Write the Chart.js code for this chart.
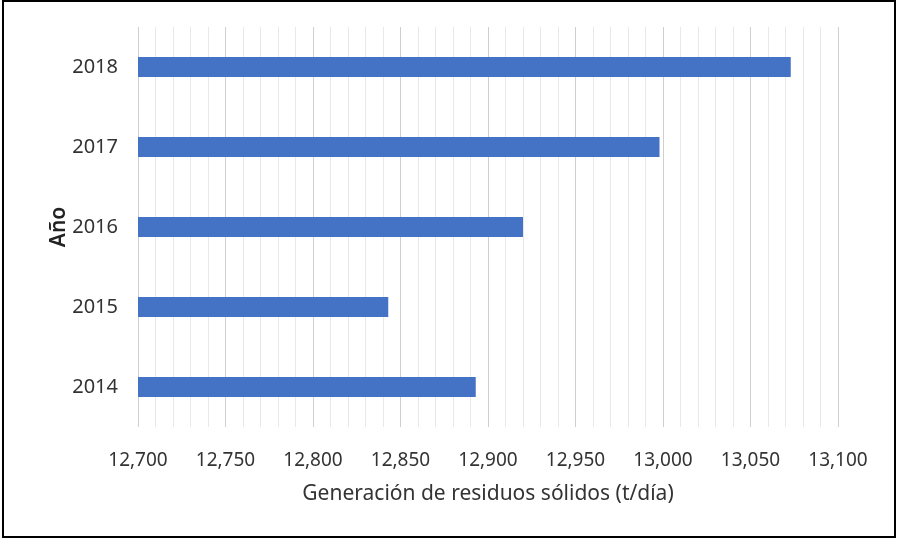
<!DOCTYPE html>
<html>
<head>
<meta charset="utf-8">
<script src="https://cdn.jsdelivr.net/npm/chart.js@4.4.0/dist/chart.umd.min.js"></script>
<style>
  body{margin:0;background:#fff;}
  #wrap{position:relative;width:897px;height:539px;}
</style>
</head>
<body>
<div id="wrap"><canvas id="myBarChart"></canvas></div>
<script>
// datos
var years=['2014','2015','2016','2017','2018'];
var residuos=[12893,12843,12920,12998,13073];
var xTitle='Generación de residuos sólidos (t/día)';
var yTitle='Año';

var fontFam="'Noto Sans', sans-serif";
var textColor='#333';

var framePlugin={
    id:'frame',
    afterDraw:function(chart){
        var c=chart.ctx;
        c.save();
        c.strokeStyle='#000';
        c.lineWidth=2;
        c.strokeRect(3,1,892,536);
        c.restore();
    }
};

function drawChartResiduos(){
    var ctx=document.getElementById('myBarChart').getContext('2d');
    var data={
        labels:years,
        datasets:[{
            data:residuos,
            backgroundColor:'#4472C4',
            barPercentage:0.25,
            categoryPercentage:1
        }]
    };
    new Chart(ctx,{
        type:'bar',
        data:data,
        plugins:[framePlugin],
        options:{
            indexAxis:'y',
            responsive:true,
            maintainAspectRatio:false,
            animation:false,
            layout:{padding:{left:0,top:27,right:59,bottom:0}},
            plugins:{
                legend:{display:false},
                tooltip:{enabled:false}
            },
            scales:{
                x:{
                    min:12700,
                    max:13100,
                    afterFit:function(scale){
                        scale.height=112;
                        scale.paddingLeft=0;
                        scale.paddingRight=0;
                    },
                    border:{display:false},
                    grid:{
                        drawTicks:false,
                        color:function(c){
                            return (c.tick && c.tick.value%50===0)?'#cfcfcf':'#e8e8e8';
                        }
                    },
                    ticks:{
                        stepSize:10,
                        autoSkip:false,
                        maxRotation:0,
                        padding:22,
                        color:textColor,
                        font:{family:fontFam,size:19},
                        callback:function(v){
                            return v%50===0?v.toLocaleString('en-US'):'';
                        }
                    },
                    title:{
                        display:true,
                        text:xTitle,
                        color:textColor,
                        font:{family:fontFam,size:21},
                        padding:{top:0,bottom:32}
                    }
                },
                y:{
                    reverse:true,
                    afterFit:function(scale){
                        scale.width=138;
                        scale.paddingTop=0;
                        scale.paddingBottom=0;
                    },
                    border:{display:false},
                    grid:{display:false,drawTicks:false},
                    ticks:{
                        padding:20,
                        color:textColor,
                        font:{family:fontFam,size:20}
                    },
                    title:{
                        display:true,
                        text:yTitle,
                        color:'#222',
                        font:{family:fontFam,size:21,weight:'600'},
                        padding:{top:46,bottom:0}
                    }
                }
            }
        }
    });
}
drawChartResiduos();
</script>
</body>
</html>
